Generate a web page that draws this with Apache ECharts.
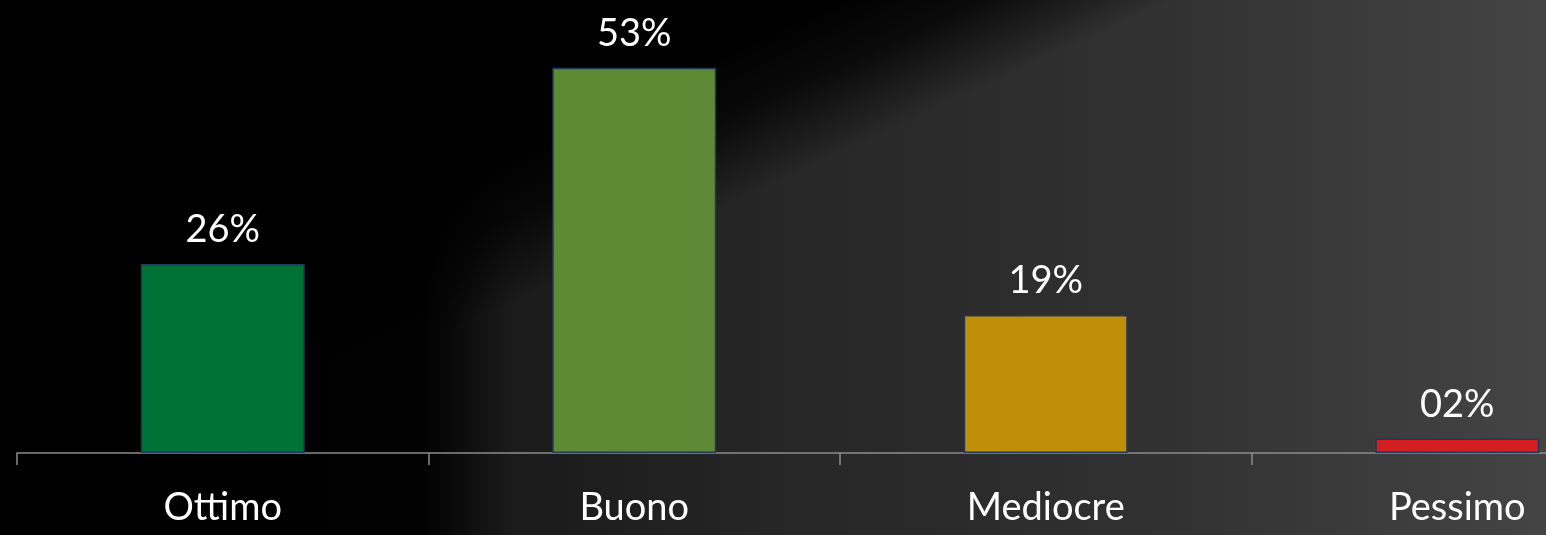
<!DOCTYPE html>
<html>
<head>
<meta charset="utf-8">
<script src="https://cdn.jsdelivr.net/npm/echarts@6/dist/echarts.min.js"></script>
<style>
  html, body { margin: 0; padding: 0; background: #000; }
  #chart { width: 1546px; height: 535px; }
</style>
</head>
<body>
<div id="chart"></div>
<script>
// Survey ratings (percent of answers)
const categories = ['Ottimo', 'Buono', 'Mediocre', 'Pessimo'];
const values = [26, 53, 19, 2];
const barColors = ['#007236', '#5f8a35', '#c08f0a', '#d21f22'];

const W = 1546, H = 535;
const chart = echarts.init(document.getElementById('chart'), null, { renderer: 'canvas' });

const option = {
  backgroundColor: '#000',
  animation: false,
  graphic: [
    // slate backdrop, black on the left, lighter grey towards the right
    {
      type: 'rect', z: -20, silent: true,
      shape: { x: 0, y: 0, width: W, height: H },
      style: {
        fill: new echarts.graphic.LinearGradient(0, 0, 1, 0, [
          { offset: 0.0, color: '#000000' },
          { offset: 0.275, color: '#020202' },
          { offset: 0.33, color: '#1a1a1a' },
          { offset: 0.5, color: '#262626' },
          { offset: 0.75, color: '#313131' },
          { offset: 1.0, color: '#444444' }
        ])
      }
    },
    // dark diagonal sweep across the top
    {
      type: 'rect', z: -19, silent: true,
      shape: { x: 0, y: 0, width: W, height: H },
      style: {
        fill: new echarts.graphic.LinearGradient(700, 60, 760, 190, [
          { offset: 0.0, color: 'rgba(0,0,0,1)' },
          { offset: 0.45, color: 'rgba(0,0,0,0.75)' },
          { offset: 1.0, color: 'rgba(0,0,0,0)' }
        ], true)
      }
    }
  ],
  grid: { left: 17, width: 1646, top: 17, bottom: 82, outerBoundsMode: 'none', containLabel: false },
  xAxis: {
    type: 'category',
    data: categories,
    boundaryGap: true,
    axisLine: { show: true, lineStyle: { color: '#8c8c8c', width: 1.5 } },
    axisTick: { show: true, length: 12, lineStyle: { color: '#8c8c8c', width: 1.5 } },
    axisLabel: {
      color: '#ffffff', fontFamily: 'Lato', fontSize: 38, margin: 36
    },
    splitLine: { show: false }
  },
  yAxis: {
    type: 'value', min: 0, max: 60, show: false,
    splitLine: { show: false }
  },
  series: [{
    type: 'bar',
    data: values.map((v, i) => ({
      value: v,
      itemStyle: { color: barColors[i] }
    })),
    barWidth: 164,
    itemStyle: { borderColor: '#22385a', borderWidth: 1.5 },
    label: {
      show: true, position: 'top', distance: 15,
      color: '#ffffff', fontFamily: 'Lato', fontSize: 38,
      formatter: p => String(p.value).padStart(2, '0') + '%'
    }
  }]
};

chart.setOption(option);
</script>
</body>
</html>
